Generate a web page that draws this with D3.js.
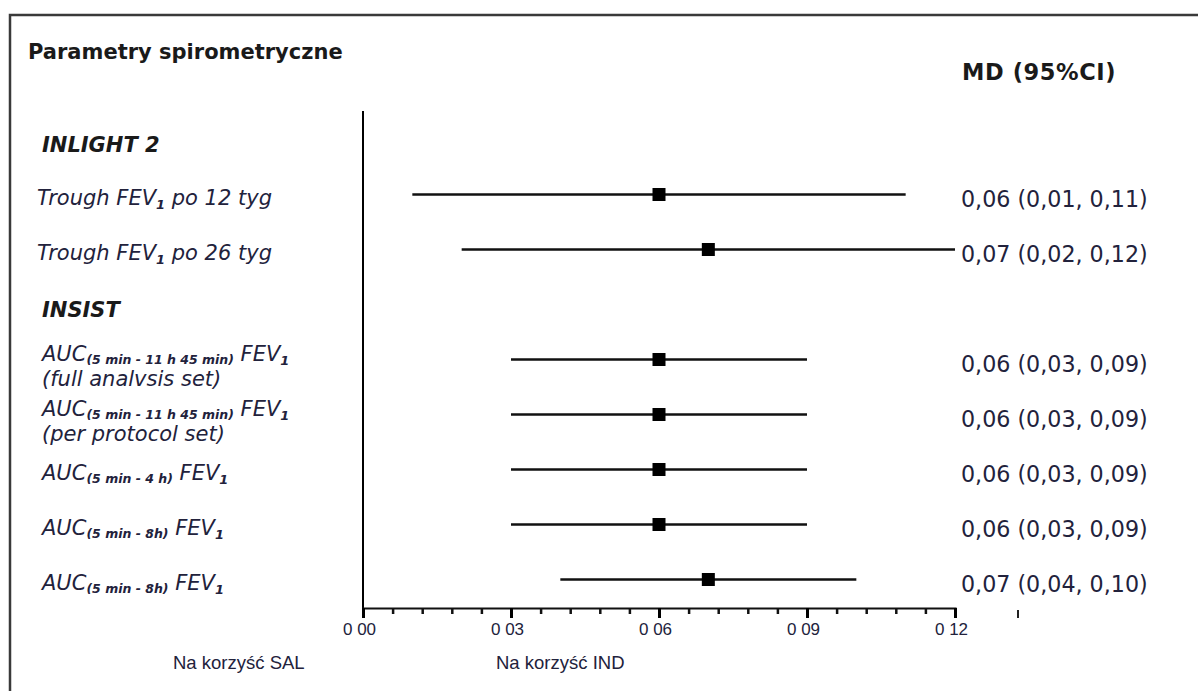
<!DOCTYPE html>
<html><head><meta charset="utf-8">
<script src="https://cdn.jsdelivr.net/npm/d3@7"></script>
<style>
html,body{margin:0;padding:0;background:#fff;}
svg{display:block;}
</style></head>
<body>
<svg id="chart" width="1198" height="691"></svg>
<script>
// ---------- data ----------
const rowKeys = ["h1","r1","r2","h2","r3","r4","r5","r6","r7"];
const groupHeaders = [
  {key:"h1", text:"INLIGHT 2"},
  {key:"h2", text:"INSIST"}
];
const studyKeys = ["r1","r2","r3","r4","r5","r6","r7"];
const mdValues = [0.06,0.07,0.06,0.06,0.06,0.06,0.07];
const ciLower  = [0.01,0.02,0.03,0.03,0.03,0.03,0.04];
const ciUpper  = [0.11,0.12,0.09,0.09,0.09,0.09,0.10];
const ciLabels = ["0,06 (0,01, 0,11)","0,07 (0,02, 0,12)","0,06 (0,03, 0,09)","0,06 (0,03, 0,09)","0,06 (0,03, 0,09)","0,06 (0,03, 0,09)","0,07 (0,04, 0,10)"];
// label segments: [text, kind] kind 0 = normal, 1 = small subscript, 2 = long subscript
const labelLine1 = [
  [["Trough FEV",0],["1",1],[" po 12 tyg",0]],
  [["Trough FEV",0],["1",1],[" po 26 tyg",0]],
  [["AUC",0],["(5 min - 11 h 45 min)",2],[" FEV",0],["1",1]],
  [["AUC",0],["(5 min - 11 h 45 min)",2],[" FEV",0],["1",1]],
  [["AUC",0],["(5 min - 4 h)",2],[" FEV",0],["1",1]],
  [["AUC",0],["(5 min - 8h)",2],[" FEV",0],["1",1]],
  [["AUC",0],["(5 min - 8h)",2],[" FEV",0],["1",1]]
];
const labelLine2 = ["", "", "(full analvsis set)", "(per protocol set)", "", "", ""];
const tickValuesMajor = [0,0.03,0.06,0.09,0.12];
const minorStep = 0.006;
const titleText = "Parametry spirometryczne";
const colHeader = "MD (95%CI)";
const favourLeft = "Na korzyść SAL";
const favourRight = "Na korzyść IND";

// ---------- layout ----------
const svg = d3.select("#chart");
const textCol = "#22223c";
const x = d3.scaleLinear().domain([0,0.12]).range([363,955]);
const y = d3.scalePoint().domain(rowKeys).range([139.5,579.5]);
const axisY = 608;

// frame
svg.append("path").attr("d","M10,700 L10,15 L1210,15")
  .attr("fill","none").attr("stroke","#3a3a3a").attr("stroke-width",2.5);

// title
svg.append("text").attr("x",28).attr("y",59).text(titleText)
  .attr("font-family","DejaVu Sans").attr("font-weight","bold").attr("font-size",21).attr("fill","#1a1a1a");
svg.append("text").attr("x",962).attr("y",80).text(colHeader)
  .attr("font-family","DejaVu Sans").attr("font-weight","bold").attr("font-size",22.5)
  .attr("letter-spacing",0.6).attr("fill","#1a1a1a");

// group headers
svg.selectAll("text.hdr").data(groupHeaders).join("text").attr("class","hdr")
  .attr("x",42).attr("y",d=>y(d.key)+12).text(d=>d.text)
  .attr("font-family","DejaVu Sans").attr("font-weight","bold").attr("font-style","italic")
  .attr("font-size",21).attr("fill","#1a1a1a");

// row labels
const rows = studyKeys.map((k,i)=>({key:k,i, md:mdValues[i], lo:ciLower[i], hi:ciUpper[i], ci:ciLabels[i], l1:labelLine1[i], l2:labelLine2[i]}));
rows.forEach(r=>{
  const yy = y(r.key);
  const twoLine = r.l2 !== "";
  const lx = r.i < 2 ? 37 : 42;
  const t = svg.append("text").attr("x",lx).attr("y", twoLine ? yy+1 : yy+10)
    .attr("font-family","DejaVu Sans").attr("font-style","italic").attr("font-size",21).attr("fill",textCol);
  let shift = 0;
  r.l1.forEach(([s,sub])=>{
    const ts = t.append("tspan").text(s);
    if(sub===1){ ts.attr("font-size",13).attr("font-weight","bold").attr("dy",4-shift); shift=4; }
    else if(sub===2){ ts.attr("font-size",12.5).attr("font-weight","bold").attr("dy",3-shift); shift=3; }
    else { ts.attr("dy",-shift); shift=0; }
  });
  if(twoLine){
    svg.append("text").attr("x",lx).attr("y",yy+26).text(r.l2)
      .attr("font-family","DejaVu Sans").attr("font-style","italic").attr("font-size",21).attr("fill",textCol);
  }
  svg.append("text").attr("x",961).attr("y",yy+12).text(r.ci)
    .attr("font-family","DejaVu Sans").attr("font-size",22.2).attr("fill",textCol);
});

// CI lines and markers
svg.selectAll("line.ci").data(rows).join("line").attr("class","ci")
  .attr("x1",d=>x(d.lo)).attr("x2",d=>x(d.hi)).attr("y1",d=>y(d.key)).attr("y2",d=>y(d.key))
  .attr("stroke","#111").attr("stroke-width",2.4);
svg.selectAll("rect.pt").data(rows).join("rect").attr("class","pt")
  .attr("x",d=>x(d.md)-6.5).attr("y",d=>y(d.key)-6.5).attr("width",13).attr("height",13).attr("fill","#000");

// vertical zero line
svg.append("line").attr("x1",x(0)).attr("x2",x(0)).attr("y1",111).attr("y2",axisY)
  .attr("stroke","#000").attr("stroke-width",2);

// axes
const minorTicks = d3.range(0, 0.12 + 1e-9, minorStep);
const gMinor = svg.append("g").attr("transform",`translate(0,${axisY})`)
  .call(d3.axisBottom(x).tickValues(minorTicks).tickSize(6).tickFormat(""));
gMinor.select(".domain").attr("stroke","#111").attr("stroke-width",2.2);
gMinor.selectAll(".tick line").attr("stroke","#111").attr("stroke-width",2.5);
const gMajor = svg.append("g").attr("transform",`translate(0,${axisY})`)
  .call(d3.axisBottom(x).tickValues(tickValuesMajor).tickSize(10).tickFormat(d=>d.toFixed(2).replace("."," ")));
gMajor.select(".domain").remove();
gMajor.selectAll(".tick line").attr("stroke","#000").attr("stroke-width",3);
gMajor.selectAll(".tick text").attr("font-family","Liberation Sans").attr("font-size",17)
  .attr("fill",textCol).attr("dx",-4).attr("y",15);

// stray mark
svg.append("line").attr("x1",1018).attr("x2",1018).attr("y1",610).attr("y2",618)
  .attr("stroke","#222").attr("stroke-width",2);

// favour labels
svg.append("text").attr("x",173).attr("y",669).text(favourLeft)
  .attr("font-family","Liberation Sans").attr("font-size",18.5).attr("fill",textCol);
svg.append("text").attr("x",496).attr("y",669).text(favourRight)
  .attr("font-family","Liberation Sans").attr("font-size",18.5).attr("fill",textCol);
</script>
</body></html>
